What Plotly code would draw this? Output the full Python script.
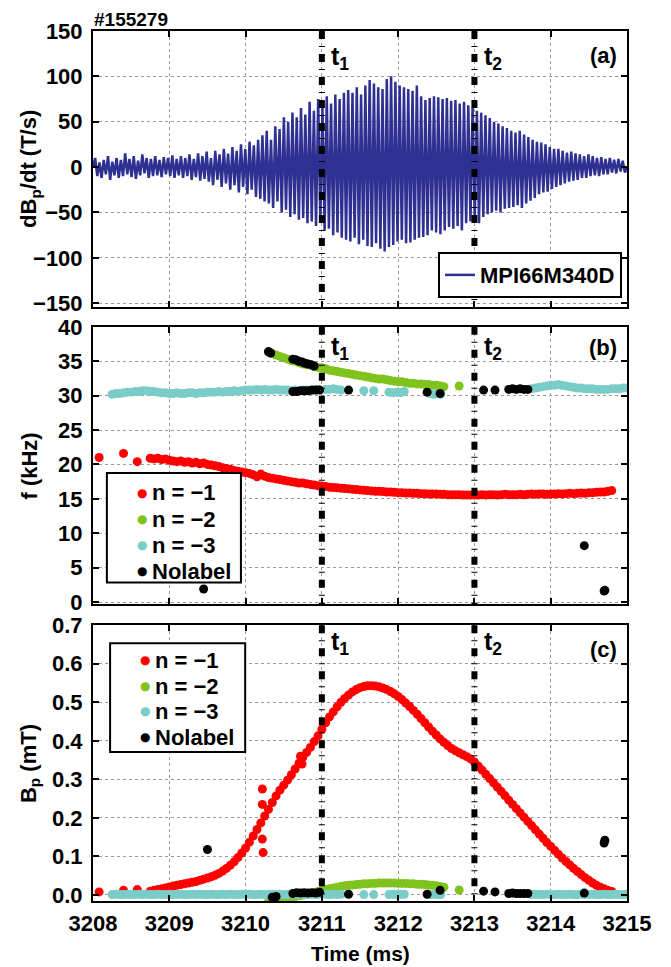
import numpy as np
import plotly.graph_objects as go

# ---------------- data ----------------
T1, T2 = 3211.0, 3213.0
X_RANGE = [3208, 3215]
X_TICKS = [3208, 3209, 3210, 3211, 3212, 3213, 3214, 3215]

# panel (a): dBp/dt signal, successive upper / lower extrema of each cycle (T/s)
sig_upper = [10, 5, 8, 12, 6, 10, 8, 15, 9, 12, 7, 14, 10, 9, 12, 8, 11, 10, 13, 9,
             12, 10, 14, 9, 15, 12, 17, 10, 18, 14, 20, 15, 22, 18, 25, 20, 28, 24, 30, 35,
             40, 30, 45, 42, 55, 50, 60, 55, 65, 58, 72, 62, 75, 65, 78, 70, 80, 75, 82,
             85, 82, 88, 80, 90, 96, 92, 88, 86, 97, 100, 94, 90, 88, 86, 84, 90,
             78, 74, 76, 78, 77, 75, 76, 73, 74, 70, 72, 68, 66, 62, 60, 57,
             54, 50, 48, 45, 43, 40, 38, 40, 36, 33, 30, 28, 27, 25, 22, 20,
             20, 18, 16, 17, 15, 14, 12, 14, 12, 10, 11, 9, 10, 8, 9, 7]
sig_lower = [-10, -12, -8, -14, -9, -12, -10, -8, -11, -13, -9, -7, -12, -10, -9, -11, -8, -10, -12, -9,
             -12, -10, -14, -11, -15, -13, -16, -20, -14, -22, -18, -25, -20, -28, -22, -30, -25, -33, -35, -38,
             -40, -45, -38, -50, -47, -55, -52, -58, -56, -62, -60, -65, -58, -70, -68, -75, -72, -78, -80,
             -82, -78, -85, -80, -87, -88, -84, -90, -93, -88, -86, -82, -80, -84, -83, -80, -78,
             -77, -75, -70, -72, -74, -70, -66, -68, -65, -70, -62, -60, -58, -62, -55, -52,
             -50, -48, -50, -46, -45, -44, -42, -45, -40, -37, -34, -30, -28, -27, -24, -22,
             -20, -18, -16, -15, -14, -12, -12, -10, -9, -10, -8, -8, -6, -7, -5, -6]

# panel (b): frequency (kHz); panel (c): Bp amplitude (mT)
# n = -1
n1_t_iso = [3208.08, 3208.40, 3208.58]
n1_f_iso = [21.0, 21.6, 20.4]
n1_b_iso = [0.008, 0.012, 0.014]
n1_t_start, n1_t_step = 3208.75, 0.05
n1_f = [20.9, 20.8, 20.9, 20.7, 20.8, 20.6,
        20.5, 20.4, 20.5, 20.3, 20.4, 20.2, 20.3, 20.1, 20.2, 20.0,
        19.9, 19.8, 19.7, 19.5, 19.4, 19.3, 19.1, 19.0, 18.9, 18.8,
        18.7, 18.5, 18.2, 18.6, 18.3, 18.1, 18.0, 17.9, 17.8, 17.7,
        17.6, 17.5, 17.4, 17.3, 17.3, 17.2, 17.1, 17.0, 16.9, 16.85,
        16.8, 16.7, 16.65, 16.6, 16.55, 16.5, 16.45, 16.4, 16.35, 16.3,
        16.25, 16.2, 16.15, 16.1, 16.1, 16.05, 16.0, 16.0, 15.95, 15.9,
        15.9, 15.85, 15.85, 15.8, 15.8, 15.75, 15.75, 15.7, 15.7, 15.7,
        15.65, 15.65, 15.6, 15.6, 15.6, 15.6, 15.55, 15.55, 15.55, 15.55,
        15.55, 15.6, 15.55, 15.6, 15.6, 15.55, 15.6, 15.65, 15.6, 15.6,
        15.6, 15.65, 15.6, 15.65, 15.7, 15.65, 15.7, 15.7, 15.65, 15.7,
        15.7, 15.75, 15.7, 15.75, 15.8, 15.75, 15.8, 15.85, 15.8, 15.9,
        15.9, 15.95, 16.0, 16.0, 16.1, 16.2]
n1_b = [0.010, 0.012, 0.014, 0.016, 0.018, 0.021,
        0.023, 0.025, 0.027, 0.029, 0.031, 0.033, 0.035, 0.038, 0.041, 0.044,
        0.047, 0.051, 0.056, 0.062, 0.069, 0.077, 0.086, 0.097, 0.109, 0.122,
        0.137, 0.153, 0.170, 0.187, 0.205, 0.222, 0.240, 0.257, 0.272, 0.285,
        0.298, 0.312, 0.327, 0.342, 0.357, 0.370, 0.383, 0.398, 0.413, 0.430,
        0.447, 0.462, 0.475, 0.488, 0.500, 0.510, 0.519, 0.527, 0.533, 0.538,
        0.541, 0.543, 0.543, 0.542, 0.540, 0.537, 0.533, 0.528, 0.522, 0.515,
        0.507, 0.498, 0.489, 0.479, 0.469, 0.458, 0.447, 0.436, 0.425, 0.415,
        0.405, 0.396, 0.388, 0.380, 0.374, 0.369, 0.364, 0.359, 0.353, 0.345,
        0.335, 0.324, 0.313, 0.302, 0.291, 0.280, 0.269, 0.258, 0.246, 0.235,
        0.224, 0.213, 0.202, 0.191, 0.180, 0.169, 0.158, 0.147, 0.136, 0.126,
        0.116, 0.106, 0.096, 0.087, 0.078, 0.069, 0.061, 0.053, 0.045, 0.038,
        0.031, 0.025, 0.020, 0.016, 0.012, 0.009]
n1_t_out = [3210.22, 3210.22, 3210.22, 3210.23, 3210.72, 3210.74]
n1_b_out = [0.275, 0.235, 0.145, 0.110, 0.360, 0.340]

# n = -2
n2_t_start, n2_t_step = 3210.30, 0.05
n2_f = [36.3, 36.1, 35.9, 35.7, 35.5, 35.3, 35.1, 35.0, 34.8, 34.6,
        34.5, 34.4, 34.2, 34.1, 34.0, 33.9, 33.7, 33.6, 33.5, 33.4,
        33.3, 33.2, 33.1, 33.0, 32.9, 32.8, 32.7, 32.6, 32.5, 32.4,
        32.4, 32.3, 32.2, 32.1, 32.0, 32.0, 31.9, 31.8, 31.8, 31.7,
        31.7, 31.6, 31.6, 31.5, 31.5, 31.4, 31.3]
n2_b = [-0.018, -0.016, -0.014, -0.012, -0.010, -0.008, -0.006, -0.004, -0.002, 0.000,
        0.002, 0.004, 0.006, 0.009, 0.012, 0.014, 0.016, 0.018, 0.020, 0.022,
        0.024, 0.025, 0.026, 0.027, 0.028, 0.029, 0.029, 0.030, 0.030, 0.031,
        0.031, 0.031, 0.031, 0.031, 0.030, 0.030, 0.030, 0.029, 0.029, 0.028,
        0.028, 0.027, 0.026, 0.025, 0.024, 0.022, 0.020]
n2_t_iso = [3212.80]
n2_f_iso = [31.4]
n2_b_iso = [0.013]

# n = -3
n3_t_start, n3_t_step = 3208.25, 0.05
n3_f = [30.2, 30.3, 30.3, 30.4, 30.5, 30.5,
        30.6, 30.6, 30.7, 30.7, 30.6, 30.6, 30.5, 30.4, 30.4, 30.3,
        30.3, 30.4, 30.3, 30.3, 30.4, 30.4, 30.3, 30.4, 30.4, 30.5,
        30.5, 30.5, 30.6, 30.5, 30.6, 30.6, 30.7, 30.6, 30.7, 30.8,
        30.8, 30.8, 30.9, 30.8, 30.9, 30.8, 30.8, 30.9, 30.8, 30.8,
        30.8, 30.7, 30.8, 30.7, 30.8, 30.8, 30.7, 30.8, 30.9]
n3_b = [0.001, 0.002, 0.001, 0.001, 0.002, 0.001,
        0.001, 0.002, 0.001, 0.002, 0.001, 0.001, 0.002, 0.001, 0.001, 0.002,
        0.001, 0.001, 0.002, 0.001, 0.001, 0.002, 0.001, 0.002, 0.001, 0.001,
        0.002, 0.001, 0.001, 0.002, 0.001, 0.002, 0.001, 0.001, 0.002, 0.001,
        0.002, 0.001, 0.001, 0.002, 0.001, 0.001, 0.002, 0.001, 0.002, 0.001,
        0.001, 0.002, 0.001, 0.001, 0.002, 0.001, 0.002, 0.001, 0.001]
n3_t_mid = [3211.05, 3211.10, 3211.15, 3211.20, 3211.25, 3211.55, 3211.68,
            3211.88, 3211.93, 3211.98, 3212.03, 3212.08, 3212.42, 3212.47, 3212.52, 3212.56]
n3_f_mid = [30.9, 30.9, 31.0, 30.9, 30.8, 30.7, 30.7,
            30.5, 30.4, 30.5, 30.4, 30.6, 30.3, 30.2, 30.3, 30.2]
n3_b_mid = [0.002, 0.001, 0.002, 0.001, 0.002, 0.001, 0.001,
            0.001, 0.002, 0.001, 0.001, 0.002, 0.001, 0.002, 0.001, 0.001]
n3_t_late_start, n3_t_late_step = 3213.75, 0.05
n3_f_late = [31.0, 31.1, 31.2, 31.3, 31.4, 31.5, 31.5, 31.6, 31.5, 31.4, 31.3, 31.2, 31.1,
             31.1, 31.0, 31.0, 31.0, 30.9, 30.9, 30.9, 30.9, 31.0, 31.0, 31.0, 31.1, 31.1]
n3_b_late = [0.001, 0.002, 0.001, 0.001, 0.002, 0.001, 0.001, 0.002, 0.001, 0.001, 0.002, 0.001, 0.001,
             0.002, 0.001, 0.001, 0.002, 0.001, 0.001, 0.002, 0.001, 0.001, 0.002, 0.001, 0.001, 0.002]

# Nolabel
nl_t_b = [3209.45, 3210.30, 3210.33, 3210.62, 3210.66, 3210.70, 3210.74, 3210.78, 3210.82,
          3210.86, 3210.90, 3210.62, 3210.67, 3210.72, 3210.77, 3210.82, 3210.87, 3210.92,
          3210.97, 3211.35, 3212.38, 3212.55, 3213.12, 3213.27, 3213.45, 3213.50, 3213.55,
          3213.60, 3213.65, 3213.70, 3214.44, 3214.70, 3214.71]
nl_f = [1.9, 36.4, 36.2, 35.3, 35.2, 35.0, 34.9, 34.7, 34.6,
        34.5, 34.3, 30.6, 30.6, 30.7, 30.7, 30.7, 30.8, 30.8,
        30.8, 30.8, 30.5, 30.3, 30.8, 30.8, 30.9, 31.0, 30.9,
        31.0, 30.9, 30.9, 8.2, 1.6, 1.7]
nl_t_c = [3209.50, 3210.35, 3210.40, 3210.62, 3210.67, 3210.72, 3210.77, 3210.82, 3210.87,
          3210.92, 3210.97, 3211.35, 3212.38, 3212.55, 3213.12, 3213.27, 3213.45, 3213.50,
          3213.55, 3213.60, 3213.65, 3213.70, 3214.44, 3214.70, 3214.71]
nl_b = [0.118, -0.006, -0.004, 0.004, 0.006, 0.005, 0.006, 0.005, 0.006,
        0.005, 0.007, 0.002, 0.002, 0.012, 0.010, 0.008, 0.004, 0.005,
        0.004, 0.004, 0.004, 0.004, 0.005, 0.135, 0.142]

series_names = ["n = \u22121", "n = \u22122", "n = \u22123", "Nolabel"]
series_colors = ["#FF0000", "#7FC31C", "#7ACCC8", "#000000"]

# ---------------- helpers ----------------
def grid(start, step, n):
    return list(np.round(start + step * np.arange(n), 4))

t_n1 = grid(n1_t_start, n1_t_step, len(n1_f))
t_n2 = grid(n2_t_start, n2_t_step, len(n2_f))
t_n3 = grid(n3_t_start, n3_t_step, len(n3_f))
t_n3_late = grid(n3_t_late_start, n3_t_late_step, len(n3_f_late))

sig_y = [0.0]
for u, l in zip(sig_upper, sig_lower):
    sig_y += [u, l]
sig_y.append(0.0)
sig_x = np.linspace(X_RANGE[0], X_RANGE[1], len(sig_y))

FONT = "Liberation Sans, Arial, sans-serif"
FS = 22
BLK = "black"

def f(size=FS, color=BLK, family=FONT):
    return dict(size=size, color=color, family=family, weight="bold")

fig = go.Figure()
fig.add_trace(go.Scatter(x=sig_x, y=sig_y, mode="lines", name="MPI66M340D",
                         line=dict(color="#2E3192", width=2.5), xaxis="x", yaxis="y",
                         showlegend=True))

MS = 9
b_sets = [
    (n1_t_iso + t_n1, n1_f_iso + n1_f),
    (t_n2 + n2_t_iso, n2_f + n2_f_iso),
    (t_n3 + n3_t_mid + t_n3_late, n3_f + n3_f_mid + n3_f_late),
    (nl_t_b, nl_f),
]
c_sets = [
    (n1_t_iso + t_n1 + n1_t_out, n1_b_iso + n1_b + n1_b_out),
    (t_n2 + n2_t_iso, n2_b + n2_b_iso),
    (t_n3 + n3_t_mid + t_n3_late, n3_b + n3_b_mid + n3_b_late),
    (nl_t_c, nl_b),
]
for (tx, vy), nm, col in zip(b_sets, series_names, series_colors):
    fig.add_trace(go.Scatter(x=tx, y=vy, mode="markers", name=nm, showlegend=False,
                             marker=dict(color=col, size=MS, line=dict(width=0)),
                             xaxis="x2", yaxis="y2"))
for (tx, vy), nm, col in zip(c_sets, series_names, series_colors):
    fig.add_trace(go.Scatter(x=tx, y=vy, mode="markers", name=nm, showlegend=False,
                             marker=dict(color=col, size=MS, line=dict(width=0)),
                             xaxis="x3", yaxis="y3"))

axis_common = dict(showline=True, linecolor=BLK, linewidth=2, mirror="ticks",
                   ticks="inside", ticklen=6, tickwidth=1.5, tickcolor=BLK,
                   showgrid=True, gridcolor="#9a9a9a", griddash="dot", gridwidth=1,
                   zeroline=False, automargin=False, tickfont=f())
xa = dict(range=X_RANGE, tickvals=X_TICKS, **axis_common)

# the page body has an 8px margin; the figure is sized to fill the rest of the window
fig.update_layout(
    width=663, height=959,
    margin=dict(l=85, r=44, t=23, b=66),
    paper_bgcolor="white", plot_bgcolor="white",
    font=dict(family=FONT, color=BLK, weight="bold"),
    xaxis=dict(domain=[0, 1], anchor="y", showticklabels=False, **xa),
    xaxis2=dict(domain=[0, 1], anchor="y2", showticklabels=False, **xa),
    xaxis3=dict(domain=[0, 1], anchor="y3", showticklabels=True, ticklabelstandoff=2, **xa),
    yaxis=dict(domain=[0.683, 1.0], range=[-154, 150], dtick=50, anchor="x",
               ticklabelstandoff=4, **axis_common),
    yaxis2=dict(domain=[0.341, 0.660], range=[-0.33, 40], dtick=5, anchor="x2",
                ticklabelstandoff=4, **axis_common),
    yaxis3=dict(domain=[0.0, 0.317], range=[-0.0156, 0.7], dtick=0.1, tickformat=".1f",
                anchor="x3", ticklabelstandoff=4, **axis_common),
    legend=dict(x=0.9906, xanchor="right", y=0.693, yanchor="bottom",
                bgcolor="white", bordercolor=BLK, borderwidth=2, font=f()),
    showlegend=True,
)

shapes, annots = [], []
for yr, txt in (("y", "dB<sub>p</sub>/dt (T/s)"), ("y2", "f (kHz)"), ("y3", "B<sub>p</sub> (mT)")):
    annots.append(dict(xref="paper", yref=yr + " domain", x=-0.118, y=0.5, text=txt,
                       textangle=-90, showarrow=False, xanchor="center", yanchor="middle",
                       font=f()))
annots.append(dict(xref="x3 domain", yref="paper", x=0.5, y=-0.0605, text="Time (ms)",
                   showarrow=False, xanchor="center", yanchor="middle", font=f(21), borderpad=0))

panel_info = [("x", "y", "(a)", -10, -9), ("x2", "y2", "(b)", -6, -3), ("x3", "y3", "(c)", -10, 0)]
for xr, yr, lab, lab_shift, t_shift in panel_info:
    for tv, tl in ((T1, "t<sub>1</sub>"), (T2, "t<sub>2</sub>")):
        shapes.append(dict(type="line", xref=xr, yref=yr + " domain", x0=tv, x1=tv, y0=1, y1=0,
                           line=dict(color=BLK, width=6, dash="8px,7px,1px,7px"), layer="above"))
        annots.append(dict(xref=xr, yref=yr + " domain", x=tv + 0.1, y=1.0, yshift=t_shift,
                           text=tl, showarrow=False, xanchor="left", yanchor="top",
                           font=f(25)))
    annots.append(dict(xref=xr + " domain", yref=yr + " domain", x=0.985, y=1.0, yshift=lab_shift,
                       text=lab, showarrow=False, xanchor="right", yanchor="top", font=f()))
annots.append(dict(xref="x domain", yref="y domain", x=0.0, y=1.0, text="#155279",
                   showarrow=False, xanchor="left", yanchor="bottom", font=f(19), borderpad=0))

legend_boxes = [("x2", "y2", 0.026, 0.277, 0.079, 0.473, [0.402, 0.307, 0.213, 0.119], 0.092, 0.107),
                ("x3", "y3", 0.032, 0.285, 0.540, 0.935, [0.873, 0.779, 0.688, 0.594], 0.097, 0.112)]
for xr, yr, x0, x1, y0, y1, ys, xd, xt in legend_boxes:
    shapes.append(dict(type="rect", xref=xr + " domain", yref=yr + " domain",
                       x0=x0, x1=x1, y0=y0, y1=y1, fillcolor="white",
                       line=dict(color=BLK, width=2), layer="above"))
    for yy, nm, col in zip(ys, series_names, series_colors):
        annots.append(dict(xref=xr + " domain", yref=yr + " domain", x=xd, y=yy, text="\u25cf",
                           showarrow=False, xanchor="center", yanchor="middle",
                           font=dict(size=12, color=col, family="DejaVu Sans")))
        annots.append(dict(xref=xr + " domain", yref=yr + " domain", x=xt, y=yy, text=nm,
                           showarrow=False, xanchor="left", yanchor="middle", font=f()))

fig.update_layout(shapes=shapes, annotations=annots)
fig.write_html("out.html")
